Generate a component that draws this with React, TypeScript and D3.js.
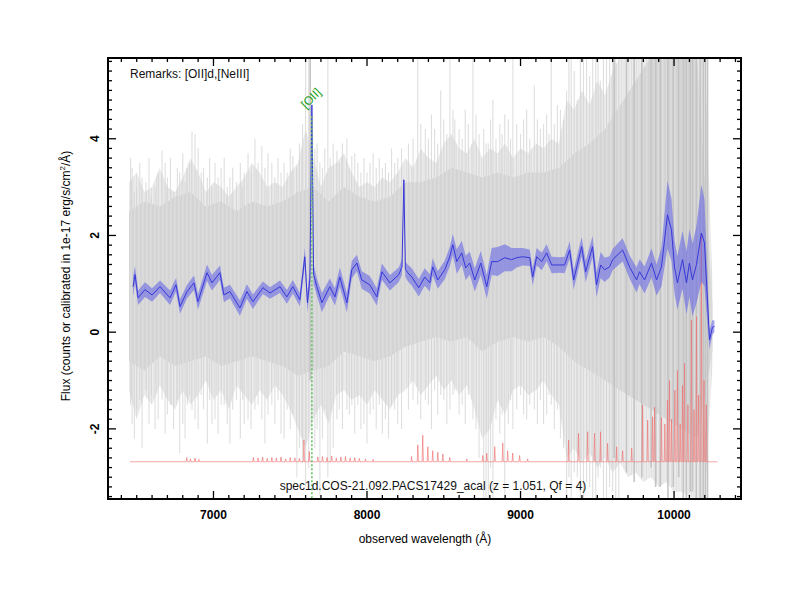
import React from 'react';
import * as d3 from 'd3';

// plot frame (pixels inside the 800x600 picture)
const W = 800;
const H = 600;
const frame = { left: 108, right: 741, top: 58, bottom: 499 };
const FONT = '"Liberation Sans", Arial, Helvetica, sans-serif';

// ---- gray stack of individual exposures: outer (light) envelope, 50 A grid
const grayWl = [
  6450, 6500, 6550, 6600, 6650, 6700, 6750, 6800, 6850, 6900,
  6950, 7000, 7050, 7100, 7150, 7200, 7250, 7300, 7350, 7400,
  7450, 7500, 7550, 7600, 7650, 7700, 7750, 7800, 7850, 7900,
  7950, 8000, 8050, 8100, 8150, 8200, 8250, 8300, 8350, 8400,
  8450, 8500, 8550, 8600, 8650, 8700, 8750, 8800, 8850, 8900,
  8950, 9000, 9050, 9100, 9150, 9200, 9250, 9300, 9350, 9400,
  9450, 9500, 9550, 9600, 9650, 9700, 9750, 9800, 9850, 9900,
  9950, 10000, 10050, 10100, 10150, 10200, 10250,
];
const grayHi = [
  3.1, 3.3, 2.9, 3.0, 3.4, 3.0, 2.9, 3.2, 3.6, 3.3,
  2.9, 3.1, 3.0, 2.8, 3.0, 3.2, 3.5, 3.3, 3.0, 3.1,
  3.0, 3.3, 3.5, 4.2, 3.6, 3.0, 3.4, 3.5, 3.7, 3.3,
  3.0, 3.1, 3.0, 3.2, 3.1, 3.3, 3.6, 3.4, 3.8, 3.6,
  3.5, 3.9, 4.1, 3.8, 3.7, 4.0, 3.6, 3.8, 3.7, 3.9,
  3.6, 3.8, 3.7, 3.9, 3.8, 4.0, 3.9, 4.8, 4.6, 5.0,
  4.7, 5.2, 4.9, 5.4, 5.7, 5.7, 5.7, 5.7, 5.7, 5.7,
  5.7, 5.7, 5.7, 5.7, 5.7, 5.7, 1.0,
];
const grayLo = [
  -1.2, -1.8, -1.3, -1.5, -1.1, -1.4, -1.6, -1.2, -1.5, -1.3,
  -1.0, -1.4, -1.2, -1.6, -1.1, -1.3, -1.5, -1.2, -1.4, -1.1,
  -1.3, -1.6, -2.0, -2.4, -1.8, -1.5, -1.9, -1.3, -1.2, -1.4,
  -1.3, -1.5, -1.2, -1.4, -1.6, -1.3, -1.2, -1.0, -1.3, -1.1,
  -0.9, -1.2, -1.0, -1.3, -1.1, -1.6, -2.2, -2.0, -1.4, -1.7,
  -1.2, -1.1, -1.3, -1.2, -1.0, -1.3, -1.5, -2.6, -2.4, -2.7,
  -2.5, -2.8, -2.6, -2.9, -2.7, -3.0, -2.9, -3.1, -3.0, -3.2,
  -3.1, -3.3, -3.3, -3.4, -3.45, -3.45, -0.7,
];

// ---- denser core of the gray stack, 100 A grid
const coreWl = [
  6450, 6550, 6650, 6750, 6850, 6950, 7050, 7150, 7250, 7350,
  7450, 7550, 7650, 7750, 7850, 7950, 8050, 8150, 8250, 8350,
  8450, 8550, 8650, 8750, 8850, 8950, 9050, 9150, 9250, 9350,
  9450, 9550, 9650, 9750, 9850, 9950, 10050, 10150, 10250,
];
const coreHi = [
  2.5, 2.7, 2.6, 2.8, 2.9, 2.6, 2.7, 2.5, 2.7, 2.6,
  2.7, 2.9, 3.0, 2.7, 3.0, 2.8, 2.7, 2.8, 3.1, 3.1,
  3.2, 3.4, 3.3, 3.2, 3.3, 3.2, 3.3, 3.3, 3.4, 3.7,
  3.9, 4.2, 4.7, 5.2, 5.7, 5.7, 5.7, 5.7, 0.6,
];
const coreLo = [
  -0.6, -0.8, -0.5, -0.7, -0.6, -0.5, -0.7, -0.6, -0.5, -0.6,
  -0.7, -0.9, -0.8, -0.7, -0.4, -0.5, -0.6, -0.5, -0.3, -0.2,
  -0.1, -0.2, -0.1, -0.4, -0.2, -0.1, -0.2, -0.1, -0.3, -0.6,
  -0.8, -1.0, -1.2, -1.4, -1.6, -1.8, -2.0, -2.2, -0.4,
];

// ---- single noisy exposures sticking out of the envelope: [wavelength, low, high]
const lightSpikes: [number, number, number][] = [
  [6460, -1.5, 3.6], [6470, -1.9, 3.4], [6485, -2.2, 2.9], [6500, -1.6, 3.0],
  [6520, -1.4, 3.5], [6535, -2.4, 3.2], [6560, -1.2, 3.1], [6580, -1.9, 3.6],
  [6595, -1.3, 2.8], [6620, -2.0, 3.0], [6640, -1.8, 3.3], [6665, -1.4, 3.75],
  [6685, -2.1, 3.5], [6700, -1.7, 3.2], [6720, -1.5, 3.6], [6740, -2.0, 2.9],
  [6765, -1.4, 3.4], [6780, -2.5, 3.3], [6800, -1.9, 3.7], [6815, -2.2, 3.1],
  [6830, -1.5, 3.4], [6845, -1.3, 3.5], [6860, -1.6, 4.15], [6880, -1.8, 4.1],
  [6900, -2.0, 3.8], [6920, -1.3, 3.3], [6935, -1.6, 3.4], [6960, -2.3, 3.2],
  [6975, -1.4, 3.6], [6990, -1.9, 3.0], [7010, -1.8, 3.5], [7030, -2.1, 3.2],
  [7050, -1.5, 3.4], [7070, -1.5, 3.6], [7090, -1.9, 3.0], [7107, -2.3, 3.2],
  [7125, -1.6, 3.4], [7150, -1.4, 3.1], [7175, -2.2, 3.5], [7190, -1.4, 3.0],
  [7200, -1.9, 3.3], [7225, -1.8, 3.7], [7245, -2.0, 3.3], [7270, -1.6, 4.0],
  [7290, -1.5, 3.5], [7315, -1.8, 3.85], [7335, -2.3, 3.4], [7355, -1.7, 3.7],
  [7380, -1.5, 3.5], [7400, -1.9, 3.2], [7420, -1.4, 3.6], [7440, -2.1, 3.3],
  [7460, -2.2, 3.5], [7480, -1.6, 3.3], [7500, -2.0, 3.8], [7517, -1.7, 3.65],
  [7543, -3.0, 3.4], [7560, -2.4, 3.9], [7580, -2.7, 4.3], [7600, -3.2, 5.7],
  [7620, -2.8, 5.7], [7660, -2.4, 3.8], [7675, -2.0, 3.9], [7693, -3.4, 3.5],
  [7710, -2.2, 3.4], [7725, -1.6, 3.8], [7745, -3.0, 5.7], [7760, -2.7, 3.6],
  [7780, -2.4, 3.9], [7804, -1.8, 3.75], [7820, -1.6, 3.5], [7840, -2.0, 3.9],
  [7869, -1.6, 4.0], [7885, -1.7, 3.4], [7901, -1.5, 3.65], [7920, -2.1, 3.7],
  [7940, -1.5, 3.5], [7960, -2.0, 3.3], [7980, -1.9, 3.6], [8000, -2.3, 3.3],
  [8020, -1.7, 3.5], [8040, -1.6, 3.7], [8060, -2.0, 3.4], [8080, -1.5, 3.6],
  [8100, -2.1, 3.4], [8120, -1.8, 3.5], [8140, -2.2, 3.3], [8160, -1.5, 3.8],
  [8180, -1.6, 3.5], [8200, -1.9, 3.6], [8225, -2.0, 3.8], [8270, -1.6, 3.9],
  [8300, -1.4, 4.0], [8330, -1.5, 5.7], [8350, -1.8, 4.3], [8380, -1.4, 4.2],
  [8400, -1.5, 4.0], [8420, -2.0, 4.5], [8440, -1.2, 4.2], [8460, -1.7, 3.9],
  [8480, -1.3, 5.0], [8500, -1.4, 4.4], [8520, -1.9, 4.1], [8540, -1.6, 5.7],
  [8560, -1.3, 4.6], [8572, -1.2, 4.4], [8600, -1.7, 4.2], [8620, -1.5, 4.0],
  [8640, -1.9, 4.6], [8660, -1.3, 4.3], [8690, -1.8, 5.7], [8710, -2.0, 4.5],
  [8730, -2.6, 4.1], [8760, -3.45, 4.2], [8775, -3.45, 3.9], [8790, -3.45, 3.9],
  [8805, -2.8, 4.4], [8820, -3.45, 4.8], [8840, -1.8, 4.0], [8865, -2.1, 4.3],
  [8880, -1.7, 4.1], [8897, -3.45, 4.5], [8920, -1.9, 4.4], [8935, -1.4, 4.0],
  [8950, -2.0, 5.7], [8975, -1.6, 4.3], [9000, -1.3, 4.1], [9020, -1.7, 4.4],
  [9040, -1.8, 4.6], [9060, -1.5, 4.0], [9090, -1.6, 5.1], [9110, -1.9, 4.4],
  [9130, -1.4, 4.2], [9150, -1.9, 4.3], [9170, -1.7, 4.5], [9185, -1.3, 4.1],
  [9200, -1.5, 5.7], [9220, -2.0, 4.3], [9240, -1.6, 4.7], [9260, -2.2, 4.6],
  [9280, -2.4, 4.4], [9300, -3.45, 5.0], [9315, -3.0, 5.7], [9330, -3.45, 5.7],
  [9350, -2.9, 5.4], [9370, -3.0, 4.8], [9390, -3.45, 5.7], [9410, -3.45, 5.7],
  [9430, -3.1, 5.7], [9450, -3.2, 5.3], [9470, -3.45, 5.7], [9490, -3.45, 5.7],
  [9505, -3.0, 5.7], [9520, -2.8, 5.2], [9540, -3.45, 5.7], [9560, -3.45, 5.7],
  [9580, -3.2, 5.7], [9600, -3.3, 5.7], [9620, -3.45, 5.7], [9640, -3.45, 5.7],
];
const darkSpikes: [number, number, number][] = [
  [7630, -1.0, 5.7], [9610, -2.6, 5.7], [9690, -2.9, 5.7], [9740, -3.1, 5.7],
  [9790, -3.0, 5.7], [9850, -2.8, 5.7], [9880, -3.2, 5.7], [9910, -3.2, 5.7],
  [9960, -3.45, 5.7], [9995, -3.2, 5.7], [10030, -3.0, 5.7], [10060, -3.45, 5.7],
  [10080, -3.45, 5.7], [10105, -3.3, 5.7], [10120, -3.3, 5.7], [10145, -3.45, 5.7],
  [10170, -3.45, 5.7], [10190, -3.45, 5.7], [10205, -3.45, 5.7], [10218, -3.45, 5.7],
];

// ---- co-added 1d spectrum (blue) with its error
const blueWl = [
  6476, 6489, 6509, 6554, 6600, 6652, 6717, 6756, 6782, 6828,
  6873, 6899, 6958, 6990, 7042, 7068, 7107, 7172, 7218, 7257,
  7322, 7368, 7433, 7478, 7517, 7563, 7595, 7612, 7628, 7641,
  7652, 7673, 7706, 7758, 7791, 7823, 7869, 7901, 7934, 7966,
  8018, 8064, 8097, 8149, 8207, 8228, 8240, 8250, 8265, 8292,
  8337, 8376, 8409, 8428, 8461, 8507, 8539, 8559, 8585, 8617,
  8643, 8669, 8702, 8741, 8780, 8812, 8851, 8897, 8942, 8975,
  9014, 9060, 9079, 9105, 9138, 9170, 9203, 9255, 9287, 9320,
  9346, 9398, 9424, 9469, 9495, 9522, 9547, 9580, 9600, 9665,
  9710, 9756, 9775, 9808, 9853, 9886, 9918, 9957, 9983, 10003,
  10022, 10055, 10081, 10100, 10120, 10146, 10178, 10198, 10231, 10250,
  10263,
];
const blueFlux = [
  0.94, 1.19, 0.71, 0.88, 0.77, 0.94, 0.71, 0.98, 0.53, 0.84,
  1.02, 0.63, 1.23, 1.02, 1.23, 0.77, 0.84, 0.50, 0.84, 0.63,
  0.92, 0.81, 0.94, 0.73, 0.94, 0.67, 1.56, 0.61, 1.10, 4.70,
  1.20, 0.94, 0.61, 0.94, 0.73, 1.14, 0.61, 1.29, 1.43, 1.08,
  0.98, 0.73, 1.25, 1.02, 1.19, 1.35, 3.15, 1.30, 1.23, 1.14,
  0.92, 1.14, 1.02, 1.35, 1.08, 1.29, 1.56, 1.81, 1.46, 1.64,
  1.33, 1.43, 1.08, 1.43, 0.94, 1.46, 1.46, 1.54, 1.50, 1.54,
  1.56, 1.54, 1.14, 1.56, 1.46, 1.64, 1.39, 1.39, 1.39, 1.70,
  1.08, 1.77, 1.25, 1.77, 0.98, 1.39, 1.29, 1.35, 1.50, 1.70,
  1.35, 1.08, 1.25, 1.08, 1.43, 1.08, 1.35, 2.43, 2.12, 1.35,
  1.02, 1.50, 1.02, 1.43, 1.08, 1.40, 2.05, 1.85, -0.16, 0.10,
  0.12,
];
const blueErr = [
  0.20, 0.18, 0.15, 0.15, 0.14, 0.13, 0.15, 0.14, 0.15, 0.14,
  0.15, 0.16, 0.17, 0.16, 0.15, 0.15, 0.14, 0.16, 0.15, 0.15,
  0.13, 0.12, 0.13, 0.14, 0.14, 0.14, 0.18, 0.20, 0.20, 0.12,
  0.20, 0.18, 0.20, 0.17, 0.18, 0.20, 0.20, 0.18, 0.17, 0.18,
  0.18, 0.18, 0.17, 0.16, 0.15, 0.16, 0.10, 0.16, 0.17, 0.18,
  0.18, 0.18, 0.18, 0.18, 0.18, 0.19, 0.20, 0.22, 0.25, 0.25,
  0.25, 0.24, 0.24, 0.25, 0.25, 0.28, 0.30, 0.28, 0.24, 0.20,
  0.18, 0.17, 0.18, 0.18, 0.18, 0.18, 0.17, 0.16, 0.17, 0.18,
  0.20, 0.20, 0.22, 0.22, 0.26, 0.27, 0.25, 0.22, 0.22, 0.24,
  0.24, 0.26, 0.26, 0.28, 0.30, 0.32, 0.40, 0.70, 0.65, 0.55,
  0.55, 0.60, 0.65, 0.70, 0.75, 0.80, 1.00, 0.90, 0.20, 0.15,
  0.12,
];

// ---- sky / noise spectrum (red), flat floor with spikes
const redFloor = -2.68;
const redStart = 6456;
const redEnd = 10283;
const redSpikeWl = [
  6826, 6850, 6880, 6905, 7260, 7290, 7320, 7350, 7380, 7410,
  7440, 7470, 7500, 7530, 7560, 7589, 7624, 7680, 7710, 7740,
  7770, 7800, 7830, 7860, 7890, 7920, 7950, 7990, 8040, 8290,
  8331, 8363, 8396, 8428, 8461, 8494, 8539, 8650, 8754, 8780,
  8832, 8884, 8916, 8949, 8994, 9046, 9313, 9378, 9437, 9482,
  9521, 9567, 9626, 9665, 9724, 9795, 9828, 9860, 9873, 9918,
  9940, 9957, 9970, 9984, 10005, 10022, 10040, 10055, 10068, 10090,
  10113, 10130, 10146, 10160, 10178, 10195, 10210,
];
const redSpikeTop = [
  -2.59, -2.62, -2.60, -2.63, -2.59, -2.60, -2.58, -2.61, -2.59, -2.60,
  -2.58, -2.62, -2.59, -2.60, -2.61, -2.23, -2.47, -2.58, -2.57, -2.59,
  -2.56, -2.60, -2.58, -2.57, -2.60, -2.59, -2.61, -2.62, -2.63, -2.57,
  -2.33, -2.13, -2.37, -2.45, -2.48, -2.52, -2.59, -2.62, -2.55, -2.50,
  -2.37, -2.29, -2.45, -2.50, -2.55, -2.62, -2.23, -2.09, -2.06, -2.09,
  -2.06, -2.30, -2.37, -2.45, -2.40, -1.51, -1.82, -1.75, -1.55, -1.76,
  -1.90, -1.41, -1.00, -1.80, -1.20, -0.79, -1.90, -1.10, -0.64, -1.50,
  0.25, -1.60, 0.32, -1.30, 2.05, -1.00, -1.50,
];

// ---- axes and annotations
const xDomain: [number, number] = [6313, 10436];
const yDomain: [number, number] = [-3.45, 5.67];
const xMajor = [7000, 8000, 9000, 10000];
const yMajor = [-2, 0, 2, 4];
const lineWl = 7641;
const lineName = '[OII]';
const lineLabelTop = 4.55;
const remarks = 'Remarks: [OII]d,[NeIII]';
const caption = 'spec1d.COS-21.092.PACS17429_acal (z = 1.051, Qf = 4)';

export default function App() {
  const x = d3.scaleLinear().domain(xDomain).range([frame.left, frame.right]);
  const y = d3.scaleLinear().domain(yDomain).range([frame.bottom, frame.top]);

  const band = d3
    .area<number>()
    .x((i) => x(grayWl[i]))
    .y0((i) => y(grayLo[i]))
    .y1((i) => y(grayHi[i]));
  const core = d3
    .area<number>()
    .x((i) => x(coreWl[i]))
    .y0((i) => y(coreLo[i]))
    .y1((i) => y(coreHi[i]));
  const errArea = d3
    .area<number>()
    .x((i) => x(blueWl[i]))
    .y0((i) => y(blueFlux[i] - blueErr[i]))
    .y1((i) => y(blueFlux[i] + blueErr[i]));
  const fluxLine = d3
    .line<number>()
    .x((i) => x(blueWl[i]))
    .y((i) => y(blueFlux[i]));

  // red trace: floor, then up and down at each spike
  const redPts: [number, number][] = [[redStart, redFloor]];
  redSpikeWl.forEach((w, i) => {
    redPts.push([w - 4, redFloor], [w, redSpikeTop[i]], [w + 4, redFloor]);
  });
  redPts.push([redEnd, redFloor]);
  const redLine = d3
    .line<[number, number]>()
    .x((d) => x(d[0]))
    .y((d) => y(d[1]));

  const xMinor = d3.range(6400, 10450, 100).filter((v) => !xMajor.includes(v));
  const yMinor = d3
    .range(-34, 57, 2)
    .map((v) => v / 10)
    .filter((v) => !yMajor.some((m) => Math.abs(m - v) < 1e-6));

  const idx = (n: number) => d3.range(n);

  return (
    <svg
      width={W}
      height={H}
      style={{ position: 'absolute', left: 0, top: 0, background: '#fff' }}
      fontFamily={FONT}
    >
      <defs>
        <clipPath id="plot">
          <rect
            x={frame.left}
            y={frame.top}
            width={frame.right - frame.left}
            height={frame.bottom - frame.top}
          />
        </clipPath>
        {/* hair-line texture of many overplotted exposures */}
        <pattern id="hairOuter" width={5} height={10} patternUnits="userSpaceOnUse">
          <rect width={5} height={10} fill="#ececec" />
          <rect x={1} width={1} height={10} fill="#dfdfdf" />
          <rect x={3.5} width={0.8} height={10} fill="#e3e3e3" />
        </pattern>
        <pattern id="hairCore" width={4} height={10} patternUnits="userSpaceOnUse">
          <rect width={4} height={10} fill="#d8d8d8" />
          <rect x={0.5} width={1} height={10} fill="#d0d0d0" />
          <rect x={2.5} width={0.7} height={10} fill="#e0e0e0" />
        </pattern>
      </defs>

      <g clipPath="url(#plot)">
        <path d={band(idx(grayWl.length)) || ''} fill="url(#hairOuter)" />
        {lightSpikes.map(([w, lo, hi], i) => (
          <line
            key={'ls' + i}
            x1={x(w)}
            x2={x(w)}
            y1={y(lo)}
            y2={y(hi)}
            stroke="#d2d2d2"
            strokeWidth={1.1}
            opacity={0.7}
          />
        ))}
        <path d={core(idx(coreWl.length)) || ''} fill="url(#hairCore)" />
        {darkSpikes.map(([w, lo, hi], i) => (
          <line
            key={'ds' + i}
            x1={x(w)}
            x2={x(w)}
            y1={y(lo)}
            y2={y(hi)}
            stroke="#c4c4c4"
            strokeWidth={1.6}
          />
        ))}
        <path d={redLine(redPts) || ''} fill="none" stroke="#ef7070" strokeWidth={0.8} opacity={0.8} />
        <path d={errArea(idx(blueWl.length)) || ''} fill="#5c5ce6" opacity={0.55} />
        <path d={fluxLine(idx(blueWl.length)) || ''} fill="none" stroke="#3838d8" strokeWidth={1} />
        <line
          x1={x(lineWl)}
          x2={x(lineWl)}
          y1={y(lineLabelTop) + 4}
          y2={frame.bottom}
          stroke="#66c466"
          strokeWidth={1.6}
          strokeDasharray="2,2"
        />
      </g>

      <text
        transform={`translate(${x(lineWl) + 2},${y(lineLabelTop) - 11}) rotate(-45)`}
        textAnchor="middle"
        fontSize={12}
        fill="#22a022"
      >
        {lineName}
      </text>

      <text x={130} y={78} fontSize={12} fill="#111">
        {remarks}
      </text>
      <text x={433} y={490} fontSize={12} textAnchor="middle" fill="#111">
        {caption}
      </text>

      {/* frame */}
      <rect
        x={frame.left}
        y={frame.top}
        width={frame.right - frame.left}
        height={frame.bottom - frame.top}
        fill="none"
        stroke="#000"
        strokeWidth={2}
      />

      {/* ticks, all pointing inward */}
      <g stroke="#000" strokeWidth={1.3}>
        {xMajor.map((v) => (
          <g key={'xM' + v}>
            <line x1={x(v)} x2={x(v)} y1={frame.bottom} y2={frame.bottom - 8} />
            <line x1={x(v)} x2={x(v)} y1={frame.top} y2={frame.top + 8} />
          </g>
        ))}
        {xMinor.map((v) => (
          <g key={'xm' + v}>
            <line x1={x(v)} x2={x(v)} y1={frame.bottom} y2={frame.bottom - 4} />
            <line x1={x(v)} x2={x(v)} y1={frame.top} y2={frame.top + 4} />
          </g>
        ))}
        {yMajor.map((v) => (
          <g key={'yM' + v}>
            <line x1={frame.left} x2={frame.left + 8} y1={y(v)} y2={y(v)} />
            <line x1={frame.right} x2={frame.right - 8} y1={y(v)} y2={y(v)} />
          </g>
        ))}
        {yMinor.map((v) => (
          <g key={'ym' + v}>
            <line x1={frame.left} x2={frame.left + 4} y1={y(v)} y2={y(v)} />
            <line x1={frame.right} x2={frame.right - 4} y1={y(v)} y2={y(v)} />
          </g>
        ))}
      </g>

      {/* tick labels */}
      {xMajor.map((v) => (
        <text key={'xl' + v} x={x(v)} y={519} textAnchor="middle" fontSize={12} fontWeight="bold">
          {v}
        </text>
      ))}
      {yMajor.map((v) => (
        <text
          key={'yl' + v}
          transform={`translate(99,${y(v)}) rotate(-90)`}
          textAnchor="middle"
          fontSize={12}
          fontWeight="bold"
        >
          {v}
        </text>
      ))}

      {/* axis titles */}
      <text x={425} y={543} textAnchor="middle" fontSize={12}>
        observed wavelength (Å)
      </text>
      <text transform="translate(70,276) rotate(-90)" textAnchor="middle" fontSize={12}>
        Flux (counts or calibrated in 1e-17 erg/s/cm
        <tspan dy={-5} fontSize={8}>
          2
        </tspan>
        <tspan dy={5}>/Å)</tspan>
      </text>
    </svg>
  );
}
